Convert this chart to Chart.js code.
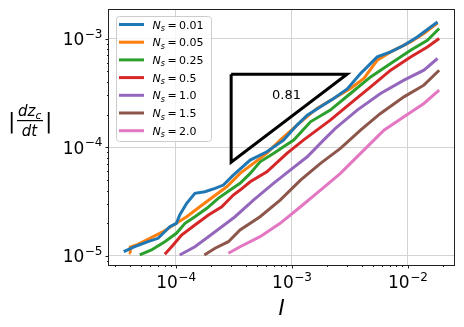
<!DOCTYPE html>
<html>
<head>
<meta charset="utf-8">
<script src="https://cdn.jsdelivr.net/npm/chart.js@4/dist/chart.umd.min.js"></script>
<style>
  html, body { margin: 0; padding: 0; background: #fff; }
  #chart { display: block; }
</style>
</head>
<body>
<canvas id="chart" width="464" height="327"></canvas>
<script>
// N_s values of each run, in the legend order
const nsLabels = ['0.01', '0.05', '0.25', '0.5', '1.0', '1.5', '2.0'];
const colors = ['#1f77b4', '#ff7f0e', '#2ca02c', '#d62728', '#9467bd', '#8c564b', '#e377c2'];

// I (x) and |dz_c/dt| (y)
const I_001 = [3.55e-5, 4.42e-5, 5.75e-5, 7.03e-5, 8.87e-5, 1.01e-4, 1.08e-4, 1.24e-4, 1.46e-4, 1.78e-4, 2.18e-4, 2.57e-4, 3.13e-4, 4.38e-4, 6.10e-4, 8.49e-4, 1.11e-3, 1.36e-3, 1.77e-3, 2.30e-3, 3.01e-3, 3.92e-3, 4.48e-3, 5.47e-3, 7.13e-3, 9.29e-3, 1.21e-2, 1.58e-2, 1.81e-2];
const dz_001 = [1.095e-5, 1.217e-5, 1.353e-5, 1.454e-5, 1.859e-5, 1.997e-5, 2.381e-5, 3.050e-5, 3.767e-5, 3.897e-5, 4.188e-5, 4.490e-5, 5.548e-5, 7.617e-5, 9.082e-5, 1.163e-4, 1.598e-4, 1.974e-4, 2.353e-4, 2.811e-4, 3.443e-4, 4.770e-4, 5.483e-4, 6.776e-4, 7.529e-4, 8.676e-4, 1.034e-3, 1.278e-3, 1.420e-3];

const I_005 = [4.08e-5, 4.04e-5, 4.57e-5, 5.96e-5, 7.76e-5, 1.01e-4, 1.24e-4, 1.61e-4, 2.10e-4, 2.75e-4, 3.58e-4, 4.67e-4, 6.10e-4, 7.94e-4, 1.19e-3, 1.65e-3, 2.30e-3, 3.21e-3, 4.19e-3, 5.47e-3, 7.13e-3, 1.06e-2, 1.38e-2, 1.81e-2];
const dz_005 = [1.065e-5, 1.210e-5, 1.262e-5, 1.454e-5, 1.672e-5, 1.997e-5, 2.296e-5, 2.837e-5, 3.505e-5, 4.332e-5, 5.751e-5, 7.106e-5, 8.837e-5, 1.163e-4, 1.702e-4, 2.275e-4, 2.811e-4, 3.472e-4, 4.290e-4, 6.318e-4, 7.529e-4, 9.307e-4, 1.111e-3, 1.391e-3];

const I_025 = [4.88e-5, 6.16e-5, 8.03e-5, 1.01e-4, 1.20e-4, 1.46e-4, 1.85e-4, 2.32e-4, 2.94e-4, 3.58e-4, 4.38e-4, 5.33e-4, 6.95e-4, 8.49e-4, 1.04e-3, 1.45e-3, 2.15e-3, 3.21e-3, 4.79e-3, 7.13e-3, 1.06e-2, 1.48e-2, 1.87e-2];
const dz_025 = [1.021e-5, 1.135e-5, 1.353e-5, 1.616e-5, 1.997e-5, 2.296e-5, 2.743e-5, 3.388e-5, 4.040e-5, 4.655e-5, 5.751e-5, 7.350e-5, 8.780e-5, 1.010e-4, 1.163e-4, 1.714e-4, 2.195e-4, 3.124e-4, 4.438e-4, 5.892e-4, 7.807e-4, 9.647e-4, 1.236e-3];

const I_05 = [8.03e-5, 9.48e-5, 1.12e-4, 1.46e-4, 1.91e-4, 2.49e-4, 3.13e-4, 3.58e-4, 4.38e-4, 6.10e-4, 9.08e-4, 1.26e-3, 2.15e-3, 3.21e-3, 4.79e-3, 7.13e-3, 1.06e-2, 1.48e-2, 1.87e-2];
const dz_05 = [1.036e-5, 1.262e-5, 1.559e-5, 1.927e-5, 2.381e-5, 2.837e-5, 3.634e-5, 4.040e-5, 4.815e-5, 5.949e-5, 8.780e-5, 1.163e-4, 1.776e-4, 2.529e-4, 3.592e-4, 5.114e-4, 6.776e-4, 8.372e-4, 1.0e-3];

const I_10 = [1.08e-4, 1.46e-4, 1.91e-4, 2.49e-4, 3.24e-4, 4.67e-4, 6.95e-4, 9.70e-4, 1.36e-3, 1.88e-3, 2.38e-3, 3.67e-3, 5.83e-3, 9.29e-3, 1.38e-2, 1.81e-2];
const dz_10 = [1.021e-5, 1.217e-5, 1.504e-5, 1.859e-5, 2.296e-5, 3.268e-5, 4.655e-5, 6.166e-5, 8.171e-5, 1.163e-4, 1.490e-4, 2.195e-4, 3.124e-4, 4.139e-4, 5.114e-4, 6.551e-4];

const I_15 = [1.76e-4, 2.18e-4, 2.84e-4, 3.58e-4, 5.33e-4, 7.94e-4, 1.19e-3, 1.77e-3, 2.63e-3, 3.92e-3, 5.83e-3, 9.29e-3, 1.38e-2, 1.87e-2];
const dz_15 = [1.021e-5, 1.177e-5, 1.353e-5, 1.734e-5, 2.296e-5, 3.268e-5, 4.991e-5, 7.106e-5, 9.759e-5, 1.437e-4, 2.047e-4, 2.906e-4, 3.724e-4, 5.114e-4];

const I_20 = [2.84e-4, 3.58e-4, 5.33e-4, 7.94e-4, 1.19e-3, 1.77e-3, 2.63e-3, 3.92e-3, 4.79e-3, 6.24e-3, 9.29e-3, 1.38e-2, 1.87e-2];
const dz_20 = [1.058e-5, 1.217e-5, 1.504e-5, 1.997e-5, 2.837e-5, 4.040e-5, 5.751e-5, 8.780e-5, 1.085e-4, 1.437e-4, 1.905e-4, 2.529e-4, 3.350e-4];

// slope triangle
const slopeLabel = '0.81';
const triI = [3e-4, 3e-3, 3e-4, 3e-4];
const triDz = [4.7e-4, 4.7e-4, 7.3e-5, 4.7e-4];

// axis limits and decade ticks
const xMin = 2.65e-5, xMax = 0.0251;
const yMin = 8.26e-6, yMax = 1.83e-3;
const xTickExps = [-4, -3, -2];
const yTickExps = [-5, -4, -3];

const xs = [I_001, I_005, I_025, I_05, I_10, I_15, I_20];
const ys = [dz_001, dz_005, dz_025, dz_05, dz_10, dz_15, dz_20];

const toPts = (a, b) => a.map((v, i) => ({ x: v, y: b[i] }));

const datasets = nsLabels.map((ns, i) => ({
    label: 'N_s = ' + ns,
    data: toPts(xs[i], ys[i]),
    borderColor: colors[i],
    borderWidth: 3,
    showLine: true,
    pointRadius: 0,
    fill: false,
}));
datasets.push({
    label: 'slope',
    data: toPts(triI, triDz),
    borderColor: '#000',
    borderWidth: 3,
    showLine: true,
    pointRadius: 0,
    fill: false,
});

const FONT = '"DejaVu Sans", sans-serif';
const isDecade = v => Math.abs(Math.log10(v) - Math.round(Math.log10(v))) < 1e-6;

function drawPow(ctx, exp, x, y, align) {
    // "10" with a raised exponent
    ctx.font = '17px ' + FONT;
    const w1 = ctx.measureText('10').width;
    const e = '\u2212' + Math.abs(exp);
    ctx.font = '12px ' + FONT;
    const w2 = ctx.measureText(e).width;
    let x0 = align === 'center' ? x - (w1 + w2) / 2 : x - (w1 + w2);
    ctx.textAlign = 'left';
    ctx.font = '17px ' + FONT;
    ctx.fillText('10', x0, y);
    ctx.font = '12px ' + FONT;
    ctx.fillText(e, x0 + w1 + 0.5, y - 7.5);
}

const decor = {
    id: 'decor',
    afterDraw(chart) {
        const ctx = chart.ctx;
        const a = chart.chartArea;
        const sx = chart.scales.x, sy = chart.scales.y;
        ctx.save();
        ctx.fillStyle = '#000';
        ctx.strokeStyle = '#000';
        ctx.textBaseline = 'alphabetic';

        // slope label
        ctx.font = '13px ' + FONT;
        ctx.textAlign = 'center';
        ctx.fillText(slopeLabel, sx.getPixelForValue(9e-4), sy.getPixelForValue(2.9e-4) + 2);

        // frame
        ctx.strokeStyle = '#222';
        ctx.lineWidth = 1;
        ctx.strokeRect(Math.round(a.left) - 0.5, Math.round(a.top) - 0.5, Math.round(a.right - a.left) + 1, Math.round(a.bottom - a.top) + 1);

        // tick marks, major and minor
        ctx.beginPath();
        for (let p = -6; p <= -1; p++) {
            for (let m = 1; m <= 9; m++) {
                const v = m * Math.pow(10, p);
                const len = m === 1 ? 3.5 : 2;
                if (v >= xMin && v <= xMax) {
                    const px = Math.round(sx.getPixelForValue(v)) + 0.5;
                    ctx.moveTo(px, a.bottom);
                    ctx.lineTo(px, a.bottom + len);
                }
                if (v >= yMin && v <= yMax) {
                    const py = Math.round(sy.getPixelForValue(v)) + 0.5;
                    ctx.moveTo(a.left, py);
                    ctx.lineTo(a.left - len, py);
                }
            }
        }
        ctx.stroke();

        // tick labels
        ctx.fillStyle = '#000';
        xTickExps.forEach(e => drawPow(ctx, e, sx.getPixelForValue(Math.pow(10, e)), a.bottom + 23, 'center'));
        yTickExps.forEach(e => drawPow(ctx, e, a.left - 7, sy.getPixelForValue(Math.pow(10, e)) + 6.5, 'right'));

        // x label
        ctx.font = 'italic 21px ' + FONT;
        ctx.textAlign = 'center';
        ctx.fillText('I', (a.left + a.right) / 2, a.bottom + 50);

        // y label |dz_c/dt|
        ctx.textAlign = 'left';
        ctx.font = '22px ' + FONT;
        ctx.fillText('|', 8, 128);
        ctx.fillText('|', 45, 128);
        ctx.font = 'italic 15px ' + FONT;
        ctx.fillText('dz', 18, 116);
        const wdz = ctx.measureText('dz').width;
        ctx.font = 'italic 10.5px ' + FONT;
        ctx.fillText('c', 18 + wdz, 119);
        ctx.fillRect(17, 120, 26, 1.2);
        ctx.font = 'italic 15px ' + FONT;
        ctx.textAlign = 'center';
        ctx.fillText('dt', 29.5, 136);

        // legend
        const lx = 116, ly = 16, lw = 95, lh = 125;
        ctx.beginPath();
        ctx.roundRect(lx + 0.5, ly + 0.5, lw, lh, 3);
        ctx.fillStyle = 'rgba(255,255,255,0.8)';
        ctx.fill();
        ctx.strokeStyle = '#cccccc';
        ctx.lineWidth = 1;
        ctx.stroke();
        ctx.textAlign = 'left';
        nsLabels.forEach((ns, i) => {
            const cy = 24.5 + i * 17.7;
            ctx.strokeStyle = colors[i];
            ctx.lineWidth = 3;
            ctx.beginPath();
            ctx.moveTo(119, cy);
            ctx.lineTo(144, cy);
            ctx.stroke();
            ctx.fillStyle = '#000';
            let x = 152.5;
            const by = cy + 4;
            ctx.font = 'italic 11px ' + FONT;
            ctx.fillText('N', x, by);
            x += ctx.measureText('N').width;
            ctx.font = 'italic 8px ' + FONT;
            ctx.fillText('s', x, by + 2.5);
            x += ctx.measureText('s').width + 2.5;
            ctx.font = '11px ' + FONT;
            ctx.fillText('=', x, by);
            x += ctx.measureText('=').width + 2.5;
            ctx.fillText(ns, x, by);
        });
        ctx.restore();
    }
};

const gridColor = c => (c.tick && isDecade(c.tick.value)) ? '#d3d3d3' : 'rgba(0,0,0,0)';

const config = {
    type: 'scatter',
    data: { datasets: datasets },
    options: {
        responsive: false,
        animation: false,
        devicePixelRatio: 1,
        layout: { padding: { top: 10, right: 10, left: 0, bottom: 0 } },
        plugins: {
            legend: { display: false },
            tooltip: { enabled: false },
        },
        elements: { line: { tension: 0 } },
        scales: {
            x: {
                type: 'logarithmic',
                min: xMin,
                max: xMax,
                ticks: { display: false },
                grid: { color: gridColor, lineWidth: 1, drawTicks: false },
                border: { display: false },
                afterFit: s => { s.height = 62; },
            },
            y: {
                type: 'logarithmic',
                min: yMin,
                max: yMax,
                ticks: { display: false },
                grid: { color: gridColor, lineWidth: 1, drawTicks: false },
                border: { display: false },
                afterFit: s => { s.width = 109; },
            },
        },
    },
    plugins: [decor],
};

const ctx = document.getElementById('chart').getContext('2d');
const myChart = new Chart(ctx, config);
</script>
</body>
</html>
